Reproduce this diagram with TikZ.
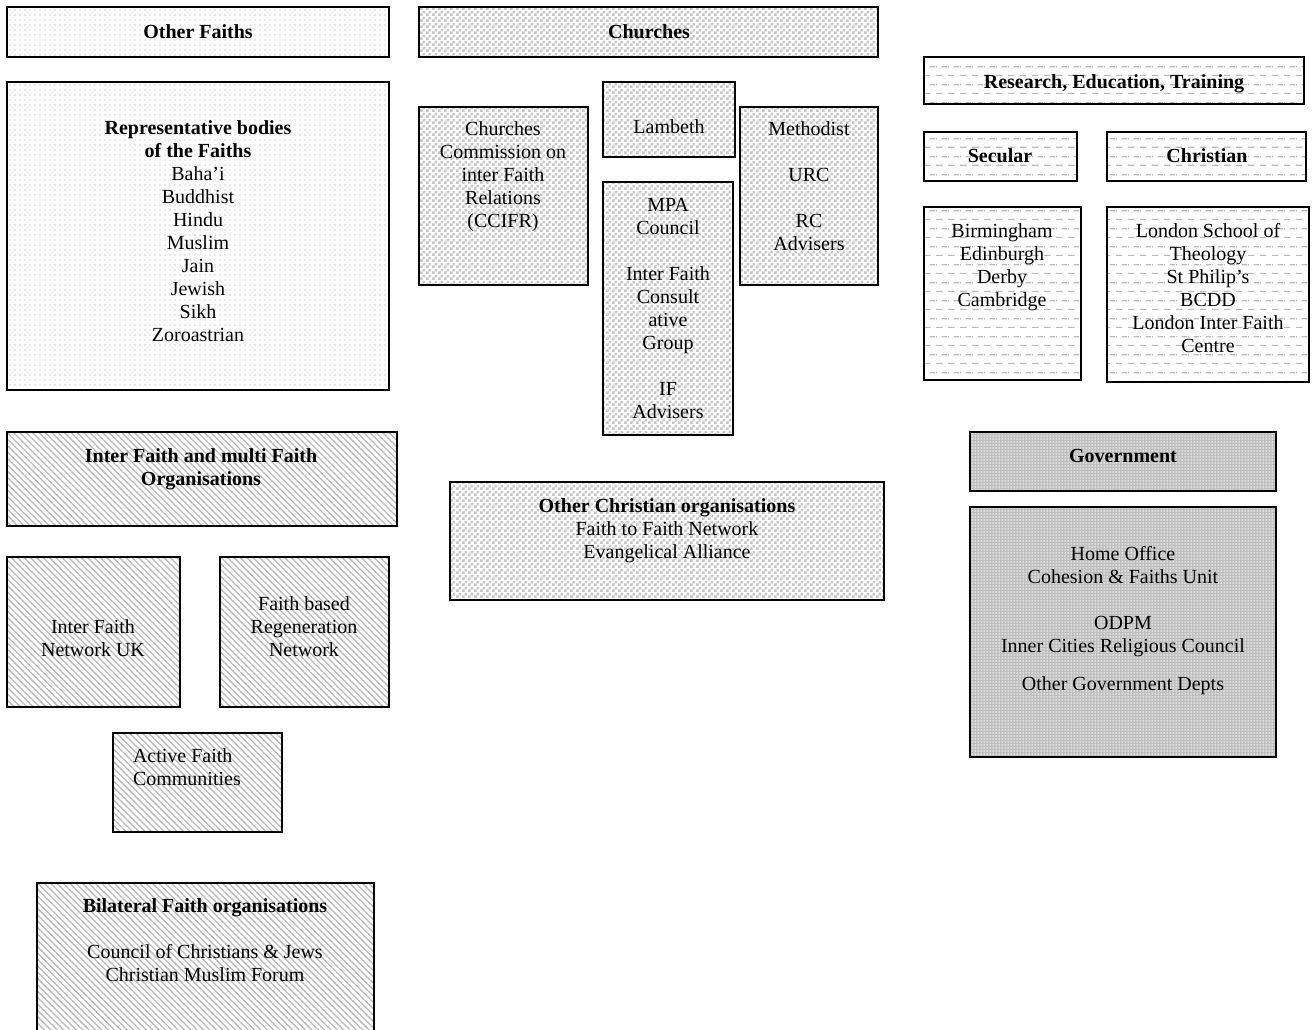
\documentclass[tikz,border=0pt]{standalone}
\usepackage{fontspec}
\setmainfont{Liberation Serif}
\usetikzlibrary{patterns,patterns.meta}
\pgfdeclarepatternformonly{chk}{\pgfpointorigin}{\pgfqpoint{6pt}{6pt}}{\pgfqpoint{6pt}{6pt}}{%
  \pgfpathrectangle{\pgfpointorigin}{\pgfqpoint{3pt}{3pt}}%
  \pgfpathrectangle{\pgfqpoint{3pt}{3pt}}{\pgfqpoint{3pt}{3pt}}%
  \pgfusepath{fill}}
\pgfdeclarepatternformonly{hdash}{\pgfpointorigin}{\pgfqpoint{12pt}{18pt}}{\pgfqpoint{12pt}{18pt}}{%
  \pgfpathrectangle{\pgfqpoint{0pt}{0pt}}{\pgfqpoint{7pt}{1.3pt}}%
  \pgfpathrectangle{\pgfqpoint{6pt}{9pt}}{\pgfqpoint{6pt}{1.3pt}}%
  \pgfpathrectangle{\pgfqpoint{0pt}{9pt}}{\pgfqpoint{1pt}{1.3pt}}%
  \pgfusepath{fill}}
\tikzset{
  frame/.style={draw=black, line width=1.8pt, inner sep=0pt, outer sep=0pt, anchor=north west},
  sparsedots/.style={frame, pattern={Dots[distance=5pt, radius=0.6pt]}, pattern color=gray!70},
  checks/.style={frame, pattern=chk, pattern color=gray!45},
  dashlines/.style={frame, pattern=hdash, pattern color=gray!55},
  diag/.style={frame, pattern={Lines[angle=-45, distance=4.5pt, line width=1.3pt]}, pattern color=gray!55},
  dense/.style={frame, preaction={fill=gray!50}, pattern={Dots[distance=3pt, radius=0.75pt]}, pattern color=white},
  txt/.style={inner sep=0pt, outer sep=0pt, anchor=north, align=center, yshift=-3pt, font=\fontsize{20}{23}\selectfont},
}
\newcommand\gbox[6]{\node[#2, minimum width={(#5-#3)*1pt}, minimum height={(#6-#4)*1pt}] (#1) at (#3,#4) {};}
\begin{document}
\begin{tikzpicture}[x=1pt,y=-1pt]
\path[use as bounding box] (0,0) rectangle (1314,1030);
\clip (0,0) rectangle (1314,1030);
\fill[white] (0,0) rectangle (1314,1030);
% Other faiths
\gbox{of}{sparsedots}{7}{7}{389}{57}
\node[txt] (of-t) at (198,19) {\strut\textbf{Other Faiths}};
\gbox{rep}{sparsedots}{7}{82}{389}{390}
\node[txt] (rep-t) at (198,115) {\strut\textbf{Representative bodies}\\\textbf{of the Faiths}\\Baha'i\\Buddhist\\Hindu\\Muslim\\Jain\\Jewish\\Sikh\\Zoroastrian};
% Churches
\gbox{ch}{checks}{419}{7}{878}{57}
\node[txt] (ch-t) at (649,19) {\strut\textbf{Churches}};
\gbox{ccifr}{checks}{419}{107}{588}{285}
\node[txt] (ccifr-t) at (503,116) {\strut Churches\\Commission on\\inter Faith\\Relations\\(CCIFR)};
\gbox{lam}{checks}{603}{82}{735}{157}
\node[txt] (lam-t) at (669,114) {\strut Lambeth};
\gbox{meth}{checks}{740}{107}{878}{285}
\node[txt] (meth-t) at (809,116) {\strut Methodist\\[23pt]URC\\[23pt]RC\\Advisers};
\gbox{mpa}{checks}{603}{182}{733}{435}
\node[txt] (mpa-t) at (668,192) {\strut MPA\\Council\\[23pt]Inter Faith\\Consult\\ative\\Group\\[23pt]IF\\Advisers};
% Research
\gbox{res}{dashlines}{924}{57}{1304}{104}
\node[txt] (res-t) at (1114,69) {\strut\textbf{Research, Education, Training}};
\gbox{sec}{dashlines}{924}{132}{1077}{181}
\node[txt] (sec-t) at (1000,143) {\strut\textbf{Secular}};
\gbox{chr}{dashlines}{1107}{132}{1306}{181}
\node[txt] (chr-t) at (1207,143) {\strut\textbf{Christian}};
\gbox{bham}{dashlines}{924}{207}{1081}{380}
\node[txt] (bham-t) at (1002,218) {\strut Birmingham\\Edinburgh\\Derby\\Cambridge};
\gbox{lon}{dashlines}{1107}{207}{1309}{382}
\node[txt] (lon-t) at (1208,218) {\strut London School of\\Theology\\St Philip's\\BCDD\\London Inter Faith\\Centre};
% Inter faith
\gbox{ifm}{diag}{7}{432}{397}{526}
\node[txt] (ifm-t) at (201,443) {\strut\textbf{Inter Faith and multi Faith}\\\textbf{Organisations}};
\gbox{ifn}{diag}{7}{557}{180}{707}
\node[txt] (ifn-t) at (93,614) {\strut Inter Faith\\Network UK};
\gbox{fbr}{diag}{220}{557}{389}{707}
\node[txt] (fbr-t) at (304,591) {\strut Faith based\\Regeneration\\Network};
\gbox{afc}{diag}{113}{733}{282}{832}
\node[txt, anchor=north west, align=left] (afc-t) at (133,743) {\strut Active Faith\\Communities};
\gbox{bil}{diag}{37}{883}{374}{1045}
\node[txt] (bil-t) at (205,893) {\strut\textbf{Bilateral Faith organisations}\\[23pt]Council of Christians \& Jews\\Christian Muslim Forum};
% Other Christian
\gbox{oco}{checks}{450}{482}{884}{600}
\node[txt] (oco-t) at (667,493) {\strut\textbf{Other Christian organisations}\\Faith to Faith Network\\Evangelical Alliance};
% Government
\gbox{gov}{dense}{970}{432}{1276}{491}
\node[txt] (gov-t) at (1123,443) {\strut\textbf{Government}};
\gbox{ho}{dense}{970}{507}{1276}{757}
\node[txt] (ho-t) at (1123,541) {\strut Home Office\\Cohesion \& Faiths Unit\\[23pt]ODPM\\Inner Cities Religious Council\\[15pt]Other Government Depts};
\end{tikzpicture}
\end{document}
